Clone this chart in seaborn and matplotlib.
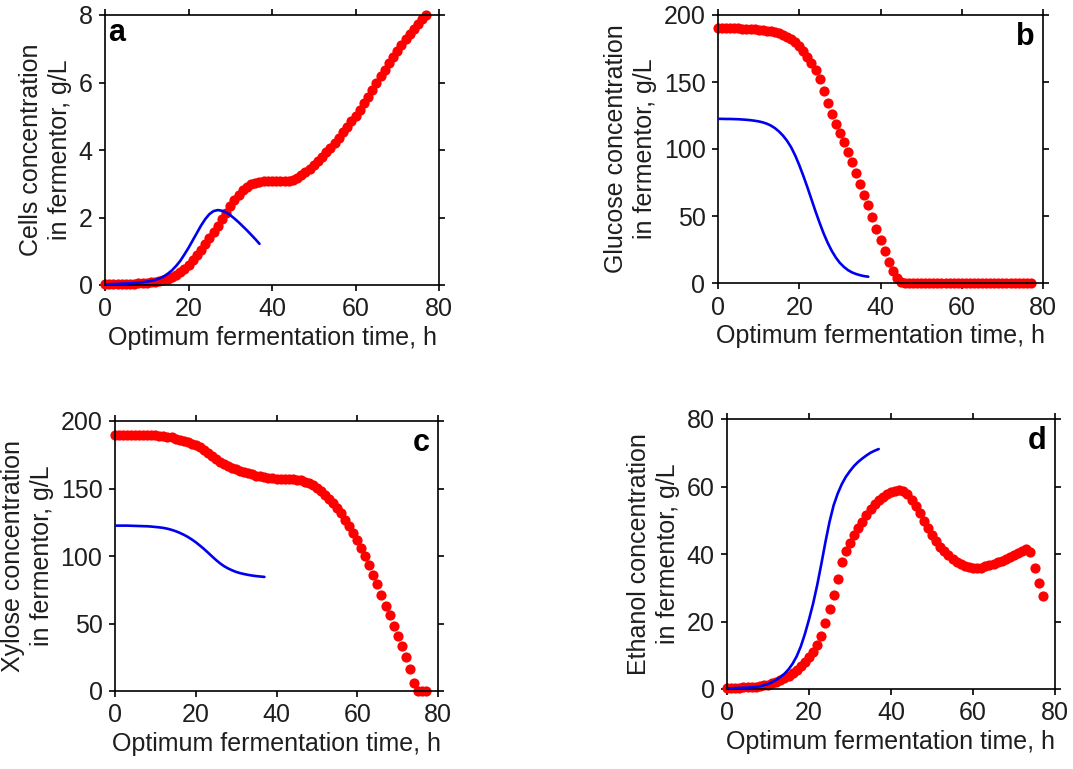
import matplotlib
matplotlib.use("Agg")
import matplotlib.pyplot as plt
import seaborn as sns
import pandas as pd

# ---- data ----
t_red = list(range(0, 78))
t_blue = list(range(0, 38))

cells_red = [0.02,0.02,0.02,0.03,0.03,0.03,0.04,0.04,0.05,0.06,0.07,0.08,0.1,0.12,0.15,0.19,0.24,0.3,0.38,0.48,
             0.6,0.73,0.88,1.04,1.22,1.4,1.58,1.76,1.95,2.14,2.34,2.52,2.68,2.81,2.91,2.98,3.03,3.06,3.08,3.09,
             3.09,3.08,3.07,3.07,3.08,3.12,3.18,3.26,3.35,3.45,3.56,3.68,3.8,3.93,4.07,4.21,4.36,4.52,4.68,4.85,
             5.02,5.2,5.39,5.58,5.78,5.98,6.18,6.38,6.57,6.76,6.94,7.12,7.29,7.45,7.6,7.74,7.87,8.0]
cells_blue = [0.02,0.02,0.03,0.03,0.04,0.04,0.05,0.06,0.07,0.08,0.1,0.12,0.15,0.19,0.25,0.33,0.43,0.56,0.71,0.9,
              1.1,1.32,1.54,1.76,1.95,2.1,2.19,2.22,2.2,2.15,2.07,1.97,1.86,1.74,1.62,1.49,1.36,1.22]

glucose_red = [190,190,190,190,190,190,189.8,189.6,189.4,189.2,189,188.7,188.3,187.8,187.2,186.4,185.3,183.9,182,179.6,
               176.6,173,168.7,164,159,152,143,134,126,119,112,105,98,90,82,74,66,58,49,40,
               32,24,16,9,4,1,0.3,0.3,0.3,0.3,0.3,0.3,0.3,0.3,0.3,0.3,0.3,0.3,0.3,0.3,
               0.3,0.3,0.3,0.3,0.3,0.3,0.3,0.3,0.3,0.3,0.3,0.3,0.3,0.3,0.3,0.3,0.3,0.3]
glucose_blue = [122.5,122.5,122.4,122.4,122.3,122.2,122,121.8,121.5,121.1,120.6,119.9,118.9,117.5,115.6,113.1,110,106.1,101.3,95.2,
                88,80,71.5,62.5,53.5,45,37,30,24,19,15,12,9.6,7.9,6.7,5.8,5.1,4.7]

xylose_red = [190,190,190,190,190,190,190,190,190,189.8,189.5,189.2,188.8,188.4,187.8,187,186.2,185.3,184.3,183.2,
              182,180.4,178.6,176.4,174.2,172,170,168.3,166.8,165.5,164.3,163.3,162.3,161.4,160.5,159.6,158.9,158.3,157.9,157.6,
              157.4,157.3,157.2,157.1,156.9,156.6,156,155,153.8,152.4,150.5,148,145,142,139,135.5,131.5,127,122.5,117,
              112,106,100,93,86,79,71,63,56,48,41,33,25,16,6,0,0,0]
xylose_blue = [122.5,122.5,122.5,122.5,122.4,122.3,122.2,122.1,122,121.8,121.5,121.2,120.8,120.2,119.4,118.4,117.2,115.8,114.2,112.3,
               110.2,107.8,105.3,102.6,99.8,97.1,94.6,92.5,90.8,89.4,88.2,87.3,86.6,86,85.5,85.1,84.8,84.5]

ethanol_red = [0.2,0.3,0.3,0.4,0.5,0.5,0.6,0.7,0.9,1.1,1.3,1.7,2.1,2.6,3.2,3.9,4.6,5.6,6.8,8.1,
               9.5,10.9,13,15.8,19.6,23.8,28,32.5,37.5,40.8,43.3,45.5,47.6,49.6,51.5,53.2,54.7,55.9,56.9,57.7,
               58.3,58.8,59,58.7,57.7,56.1,54.3,52.2,49.9,47.7,45.6,43.8,42.2,40.8,39.6,38.6,37.7,37,36.5,36.2,
               36,35.9,36,36.3,36.6,37,37.5,38,38.5,39.1,39.7,40.3,40.9,41.5,40.5,36,31.5,27.5]
ethanol_blue = [0.2,0.2,0.3,0.3,0.4,0.4,0.5,0.6,0.8,1.1,1.5,2,2.7,3.5,4.5,5.8,7.5,9.7,12.6,16.3,
                20.6,25.3,30.8,37,43.5,49.5,54.4,57.9,60.7,62.9,64.6,66.1,67.3,68.3,69.2,70,70.6,71.1]

letters = ["a", "b", "c", "d"]
ylabels = ["Cells concentration\nin fermentor, g/L",
           "Glucose concentration\nin fermentor, g/L",
           "Xylose concentration\nin fermentor, g/L",
           "Ethanol concentration\nin fermentor, g/L"]
xlabel = "Optimum fermentation time, h"
xticks = [0, 20, 40, 60, 80]
yticks_list = [[0, 2, 4, 6, 8], [0, 50, 100, 150, 200], [0, 50, 100, 150, 200], [0, 20, 40, 60, 80]]

# ---- style ----
sns.set_style("ticks")
plt.rcParams['font.family'] = ['Liberation Sans', 'DejaVu Sans']
plt.rcParams['font.size'] = 18
plt.rcParams['axes.linewidth'] = 1.2
TXT = "#1e1e1e"

fig = plt.figure(figsize=(10.73, 7.69), dpi=100)
rects = [
    [105/1073, 1-285/769, 334/1073, 270/769],
    [718/1073, 1-283/769, 325/1073, 268/769],
    [115/1073, 1-691/769, 323/1073, 270/769],
    [727/1073, 1-689/769, 328/1073, 270/769],
]
reds = [cells_red, glucose_red, xylose_red, ethanol_red]
blues = [cells_blue, glucose_blue, xylose_blue, ethanol_blue]

for i in range(4):
    ax = fig.add_axes(rects[i])
    dr = pd.DataFrame({"t": t_red, "v": reds[i]})
    db = pd.DataFrame({"t": t_blue, "v": blues[i]})
    sns.scatterplot(data=dr, x="t", y="v", ax=ax, color="#ff0000", s=54, linewidth=0,
                    clip_on=False, zorder=2)
    sns.lineplot(data=db, x="t", y="v", ax=ax, color="#0000f0", linewidth=1.9, zorder=3)
    ax.set_xlim(0, 80)
    yt = yticks_list[i]
    ax.set_ylim(yt[0], yt[-1])
    ax.set_xticks(xticks)
    ax.set_yticks(yt)
    ax.set_xlabel(xlabel, fontsize=18, labelpad=3, color=TXT)
    ax.set_ylabel(ylabels[i], fontsize=18, labelpad=5, color=TXT, linespacing=1.25)
    ax.tick_params(top=True, right=True, direction="out", length=4, width=1.2,
                   labelsize=18, colors="black", labelcolor=TXT, pad=5)
    for sp in ax.spines.values():
        sp.set_visible(True)
        sp.set_linewidth(1.2)
        sp.set_color("black")
    if i == 0:
        ax.text(0.01, 0.99, letters[i], transform=ax.transAxes, ha="left", va="top",
                fontsize=22, fontweight="bold", color="black")
    else:
        ax.text(0.975, 0.975, letters[i], transform=ax.transAxes, ha="right", va="top",
                fontsize=22, fontweight="bold", color="black")

fig.savefig("out.png", dpi=100)
